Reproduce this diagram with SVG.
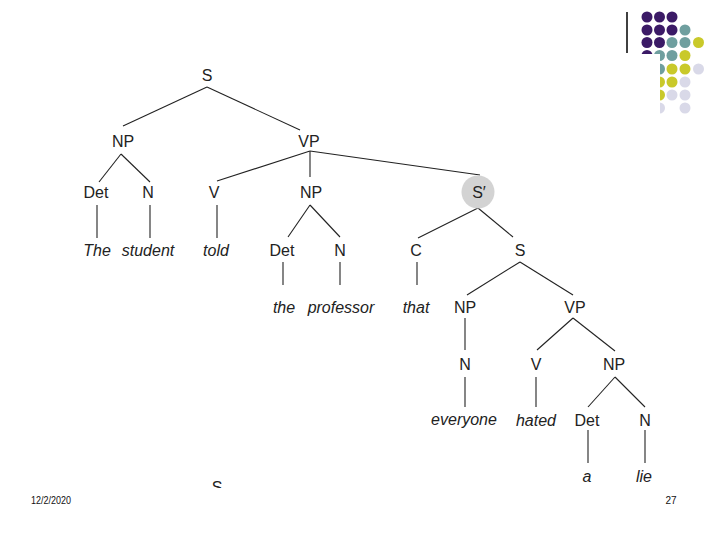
<svg xmlns="http://www.w3.org/2000/svg" width="720" height="540" viewBox="0 0 720 540">
<style>
.lbl{font-family:"Liberation Sans",Arial,sans-serif;font-size:16px;fill:#222;text-anchor:middle}
.w{font-style:italic}
.ft{font-family:"Liberation Sans",Arial,sans-serif;font-size:10px;fill:#111;text-anchor:middle}
.e{stroke:#222;stroke-width:1.1;fill:none}
.p{fill:#3b1a66}.t{fill:#6f9f9f}.y{fill:#c9c92a}.l{fill:#d9d9e8}
</style>
<defs><clipPath id="cut"><rect x="180" y="470" width="80" height="18"/></clipPath></defs>
<rect width="720" height="540" fill="#fff"/>
<g id="decor">
<line x1="627" y1="12" x2="627" y2="53" stroke="#000" stroke-width="1.5"/>
<circle class="p" cx="647" cy="17" r="5.5"/><circle class="p" cx="659.5" cy="17" r="5.5"/><circle class="p" cx="672" cy="17" r="5.5"/>
<circle class="p" cx="647" cy="30" r="5.5"/><circle class="p" cx="659.5" cy="30" r="5.5"/><circle class="p" cx="672" cy="30" r="5.5"/><circle class="t" cx="685" cy="30" r="5.5"/>
<circle class="p" cx="647" cy="42.5" r="5.5"/><circle class="p" cx="659.5" cy="42.5" r="5.5"/><circle class="t" cx="672" cy="42.5" r="5.5"/><circle class="t" cx="685" cy="42.5" r="5.5"/><circle class="y" cx="698.5" cy="42.5" r="5.5"/>
<circle class="p" cx="647" cy="55.5" r="5.5"/><circle class="t" cx="659.5" cy="55.5" r="5.5"/><circle class="t" cx="672" cy="55.5" r="5.5"/><circle class="y" cx="685" cy="55.5" r="5.5"/>
<circle class="t" cx="659.5" cy="69" r="5.5"/><circle class="y" cx="672" cy="69" r="5.5"/><circle class="y" cx="685" cy="69" r="5.5"/><circle class="l" cx="698.5" cy="69" r="5.5"/>
<circle class="y" cx="659.5" cy="82" r="5.5"/><circle class="y" cx="672" cy="82" r="5.5"/><circle class="l" cx="685" cy="82" r="5.5"/>
<circle class="y" cx="659.5" cy="95" r="5.5"/><circle class="l" cx="672" cy="95" r="5.5"/><circle class="l" cx="685" cy="95" r="5.5"/>
<circle class="l" cx="659.5" cy="108" r="5.5"/><circle class="l" cx="685" cy="108" r="5.5"/>
<rect x="600" y="54" width="60" height="70" fill="#fff"/>
</g>
<g id="connectors">
<line class="e" x1="207" y1="87" x2="123" y2="126"/>
<line class="e" x1="207" y1="87" x2="300" y2="130"/>
<line class="e" x1="121" y1="154" x2="99" y2="182"/>
<line class="e" x1="121" y1="154" x2="150" y2="182"/>
<line class="e" x1="97" y1="205" x2="97" y2="238"/>
<line class="e" x1="150" y1="205" x2="150" y2="238" stroke-width="2"/>
<line class="e" x1="217" y1="205" x2="217" y2="238"/>
<line class="e" x1="310" y1="151" x2="217" y2="181"/>
<line class="e" x1="310" y1="151" x2="310" y2="177"/>
<line class="e" x1="310" y1="151" x2="480" y2="175"/>
<line class="e" x1="310" y1="205" x2="288" y2="237"/>
<line class="e" x1="310" y1="205" x2="340" y2="237"/>
<line class="e" x1="283" y1="262" x2="283" y2="285"/>
<line class="e" x1="340" y1="262" x2="340" y2="285"/>
<line class="e" x1="478" y1="208" x2="418" y2="238"/>
<line class="e" x1="478" y1="208" x2="513" y2="237"/>
<line class="e" x1="417" y1="262" x2="417" y2="285"/>
<line class="e" x1="520" y1="262" x2="467" y2="295"/>
<line class="e" x1="520" y1="262" x2="573" y2="295"/>
<line class="e" x1="465" y1="318" x2="465" y2="350"/>
<line class="e" x1="573" y1="318" x2="537" y2="350"/>
<line class="e" x1="573" y1="318" x2="615" y2="351"/>
<line class="e" x1="465" y1="377" x2="465" y2="407"/>
<line class="e" x1="536" y1="377" x2="536" y2="407"/>
<line class="e" x1="615" y1="377" x2="588" y2="407"/>
<line class="e" x1="615" y1="377" x2="645" y2="407"/>
<line class="e" x1="588" y1="430" x2="588" y2="463"/>
<line class="e" x1="645" y1="430" x2="645" y2="463"/>
</g>
<g id="n-S"><text class="lbl" x="207" y="81">S</text></g>
<g id="n-NP1"><text class="lbl" x="123" y="147">NP</text></g>
<g id="n-VP1"><text class="lbl" x="309" y="147">VP</text></g>
<g id="n-Det1"><text class="lbl" x="96" y="198">Det</text></g>
<g id="n-N1"><text class="lbl" x="148" y="198">N</text></g>
<g id="n-V1"><text class="lbl" x="214" y="198">V</text></g>
<g id="n-NP2"><text class="lbl" x="311" y="198">NP</text></g>
<g id="n-Sbar"><circle cx="478" cy="192" r="16.5" fill="#d3d3d3"/><text class="lbl" x="479" y="198">S′</text></g>
<g id="w-The"><text class="lbl w" x="97" y="256">The</text></g>
<g id="w-student"><text class="lbl w" x="148" y="256">student</text></g>
<g id="w-told"><text class="lbl w" x="216" y="256">told</text></g>
<g id="n-Det2"><text class="lbl" x="282" y="256">Det</text></g>
<g id="n-N2"><text class="lbl" x="340" y="256">N</text></g>
<g id="n-C"><text class="lbl" x="416" y="256">C</text></g>
<g id="n-S2"><text class="lbl" x="520" y="256">S</text></g>
<g id="w-the"><text class="lbl w" x="284" y="313">the</text></g>
<g id="w-professor"><text class="lbl w" x="341" y="313">professor</text></g>
<g id="w-that"><text class="lbl w" x="416" y="313">that</text></g>
<g id="n-NP3"><text class="lbl" x="465" y="313">NP</text></g>
<g id="n-VP2"><text class="lbl" x="575" y="313">VP</text></g>
<g id="n-N3"><text class="lbl" x="465" y="370">N</text></g>
<g id="n-V2"><text class="lbl" x="536" y="370">V</text></g>
<g id="n-NP4"><text class="lbl" x="614" y="370">NP</text></g>
<g id="w-everyone"><text class="lbl w" x="464" y="425">everyone</text></g>
<g id="w-hated"><text class="lbl w" x="536" y="426">hated</text></g>
<g id="n-Det3"><text class="lbl" x="587" y="426">Det</text></g>
<g id="n-N4"><text class="lbl" x="645" y="426">N</text></g>
<g id="w-a"><text class="lbl w" x="587" y="482">a</text></g>
<g id="w-lie"><text class="lbl w" x="644" y="482">lie</text></g>
<g id="frag" clip-path="url(#cut)"><text class="lbl" x="217" y="493">S</text></g>
<g id="footer">
<text class="ft" x="51" y="504" textLength="40" lengthAdjust="spacingAndGlyphs">12/2/2020</text>
<text class="ft" x="671" y="504">27</text>
</g>
</svg>
